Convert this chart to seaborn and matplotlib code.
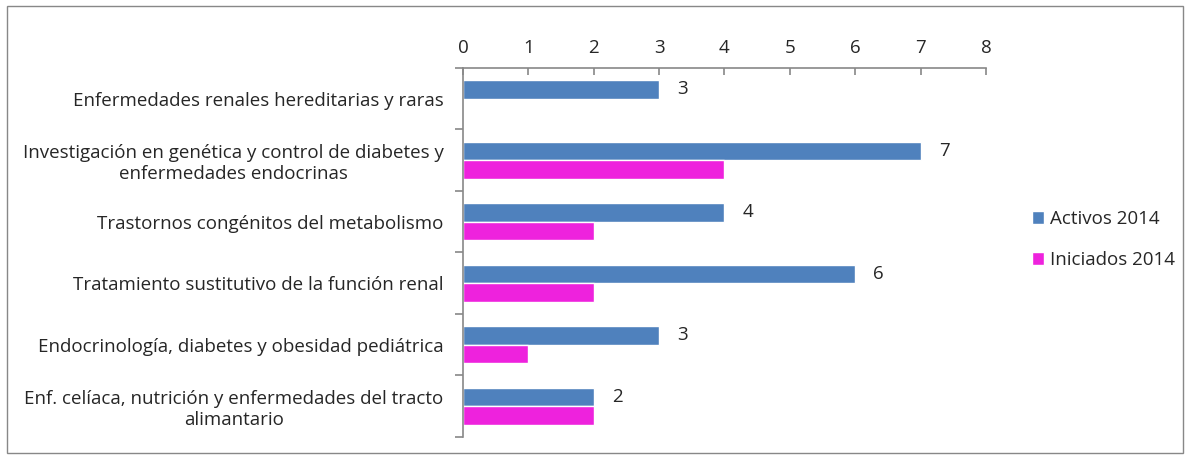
import matplotlib
matplotlib.use("Agg")
import matplotlib.pyplot as plt
import seaborn as sns
import pandas as pd
from matplotlib.patches import Rectangle

categories = [
    "Enfermedades renales hereditarias y raras",
    "Investigación en genética y control de diabetes y\nenfermedades endocrinas",
    "Trastornos congénitos del metabolismo",
    "Tratamiento sustitutivo de la función renal",
    "Endocrinología, diabetes y obesidad pediátrica",
    "Enf. celíaca, nutrición y enfermedades del tracto\nalimantario",
]
activos = [3, 7, 4, 6, 3, 2]
iniciados = [0, 4, 2, 2, 1, 2]
series_names = ["Activos 2014", "Iniciados 2014"]
colors = ["#4F81BD", "#EE22DD"]

df = pd.DataFrame({
    "cat": categories * 2,
    "val": activos + iniciados,
    "serie": [series_names[0]] * len(categories) + [series_names[1]] * len(categories),
})

sns.set_theme(style="white")
plt.rcParams["font.family"] = ["Open Sans", "DejaVu Sans"]
FS = 13.5

fig = plt.figure(figsize=(11.9, 4.59), dpi=100)
ax = fig.add_axes([0.389, 0.048, 0.8286 - 0.389, 0.852 - 0.048])

sns.barplot(data=df, x="val", y="cat", hue="serie", orient="h",
            palette=colors, width=0.6, ax=ax, legend=True, saturation=1,
            order=categories, hue_order=series_names)

ax.set_xlim(0, 8)
ax.set_xticks(range(0, 9))
ax.xaxis.tick_top()
ax.set_xlabel("")
ax.set_ylabel("")
ax.set_ylim(len(categories) - 0.5, -0.5)

for s in ["right", "bottom"]:
    ax.spines[s].set_visible(False)
for s in ["left", "top"]:
    ax.spines[s].set_color("#888888")
    ax.spines[s].set_linewidth(1.2)

ax.set_yticks([i - 0.5 for i in range(len(categories) + 1)], minor=True)
ax.set_yticks(range(len(categories)))
ax.set_yticklabels(categories, fontsize=FS, ha="right", multialignment="center")
ax.tick_params(axis="y", which="major", length=0, pad=14)
ax.tick_params(axis="y", which="minor", length=6, color="#888888", width=1.2, left=True)
ax.tick_params(axis="x", which="major", length=5, color="#888888", width=1.2,
               labelsize=FS, pad=8, top=True, direction="in")

ax.bar_label(ax.containers[0], padding=13, fontsize=FS)

h, l = ax.get_legend_handles_labels()
ax.legend_.remove()
fig.legend(h, l, loc="center left", bbox_to_anchor=(0.853, 0.478), frameon=False,
           fontsize=FS, handlelength=0.65, handleheight=0.65, handletextpad=0.3,
           labelspacing=1.25)

fig.patches.append(Rectangle((0.006, 0.012), 0.988, 0.976, transform=fig.transFigure,
                             fill=False, edgecolor="#888888", linewidth=1))

fig.savefig("out.png", dpi=100)
